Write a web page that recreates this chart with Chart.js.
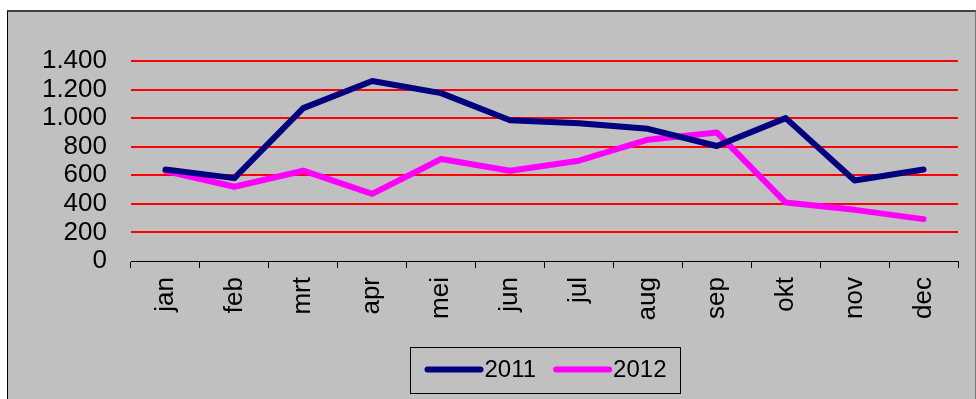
<!DOCTYPE html>
<html>
<head>
<meta charset="utf-8">
<title>2011 / 2012</title>
<script src="https://cdn.jsdelivr.net/npm/chart.js@4/dist/chart.umd.min.js"></script>
<style>
    html, body { margin: 0; padding: 0; background: #fff; }
    #wrap { position: relative; width: 976px; height: 399px; overflow: hidden; }
    #frame {
        position: absolute; left: 7px; top: 10px; width: 967px; height: 400px;
        background: #c0c0c0;
        border-top: 2px solid #444; border-left: 1px solid #000; border-right: 1px solid #777;
    }
    #chart { position: absolute; left: 0; top: 0; }
</style>
</head>
<body>
<div id="wrap">
    <div id="frame"></div>
    <canvas id="chart" width="976" height="399"></canvas>
</div>
<script>
const months = ['jan', 'feb', 'mrt', 'apr', 'mei', 'jun', 'jul', 'aug', 'sep', 'okt', 'nov', 'dec'];
const values2011 = [640, 580, 1070, 1260, 1175, 985, 965, 925, 805, 1000, 563, 640];
const values2012 = [630, 520, 632, 470, 714, 632, 702, 849, 900, 409, 358, 293];
const yMax = 1400;
const yStep = 200;

const FONT = '"Liberation Sans", Arial, sans-serif';

// thousands separator with a dot
function fmt(v) {
    return String(v).replace(/\B(?=(\d{3})+(?!\d))/g, '.');
}

// boxed legend under the axis, line sample right against the label
const boxedLegend = {
    id: 'boxedLegend',
    afterDraw(chart) {
        const ctx = chart.ctx;
        const area = chart.chartArea;
        const lineLen = 59, gap = 17, pad = 14, boxH = 46;
        ctx.save();
        ctx.font = '24px ' + FONT;
        const items = chart.data.datasets.map(ds => ({ ds: ds, w: ctx.measureText(ds.label).width }));
        let total = gap * (items.length - 1);
        items.forEach(it => { total += lineLen + 1 + it.w; });
        const boxW = Math.round(total + pad * 2);
        const left = Math.round((area.left + area.right) / 2 - boxW / 2) + 0.5;
        const top = chart.height - 52 + 0.5;

        ctx.strokeStyle = '#000';
        ctx.lineWidth = 1;
        ctx.strokeRect(left, top, boxW, boxH);

        const cy = top + 22;
        let x = left + pad;
        items.forEach(it => {
            ctx.beginPath();
            ctx.strokeStyle = it.ds.borderColor;
            ctx.lineWidth = it.ds.borderWidth;
            ctx.lineCap = 'round';
            ctx.moveTo(x + 3, cy);
            ctx.lineTo(x + lineLen - 3, cy);
            ctx.stroke();
            ctx.fillStyle = '#000';
            ctx.textBaseline = 'middle';
            ctx.textAlign = 'left';
            ctx.fillText(it.ds.label, x + lineLen + 1, cy + 1);
            x += lineLen + 1 + it.w + gap;
        });
        ctx.restore();
    }
};

new Chart(document.getElementById('chart'), {
    type: 'line',
    data: {
        labels: months,
        datasets: [{
            label: '2011',
            data: values2011,
            borderColor: '#000080',
            backgroundColor: '#000080',
            borderWidth: 6,
            pointRadius: 0,
            tension: 0,
            borderJoinStyle: 'round',
            borderCapStyle: 'round'
        }, {
            label: '2012',
            data: values2012,
            borderColor: '#ff00ff',
            backgroundColor: '#ff00ff',
            borderWidth: 6,
            pointRadius: 0,
            tension: 0,
            borderJoinStyle: 'round',
            borderCapStyle: 'round'
        }]
    },
    options: {
        responsive: false,
        animation: false,
        layout: { padding: { top: 61, right: 18, left: 0, bottom: 0 } },
        plugins: {
            legend: { display: false },
            tooltip: { enabled: false }
        },
        scales: {
            x: {
                offset: true,
                grid: {
                    offset: true,
                    drawOnChartArea: false,
                    drawTicks: true,
                    tickLength: 7,
                    color: '#000'
                },
                border: { display: true, color: '#000', width: 1 },
                ticks: {
                    color: '#000',
                    font: { family: FONT, size: 26 },
                    minRotation: 90,
                    maxRotation: 90,
                    autoSkip: false,
                    padding: 9
                },
                afterFit(scale) { scale.height = 138; }
            },
            y: {
                min: 0,
                max: yMax,
                grid: {
                    drawTicks: false,
                    lineWidth: 2,
                    color: ctx => (ctx.tick && ctx.tick.value === 0) ? 'rgba(0,0,0,0)' : '#ff0000'
                },
                border: { display: false },
                ticks: {
                    stepSize: yStep,
                    autoSkip: false,
                    color: '#000',
                    font: { family: FONT, size: 26 },
                    padding: 24,
                    callback: v => fmt(v)
                },
                afterFit(scale) { scale.width = 131; }
            }
        }
    },
    plugins: [boxedLegend]
});
</script>
</body>
</html>
